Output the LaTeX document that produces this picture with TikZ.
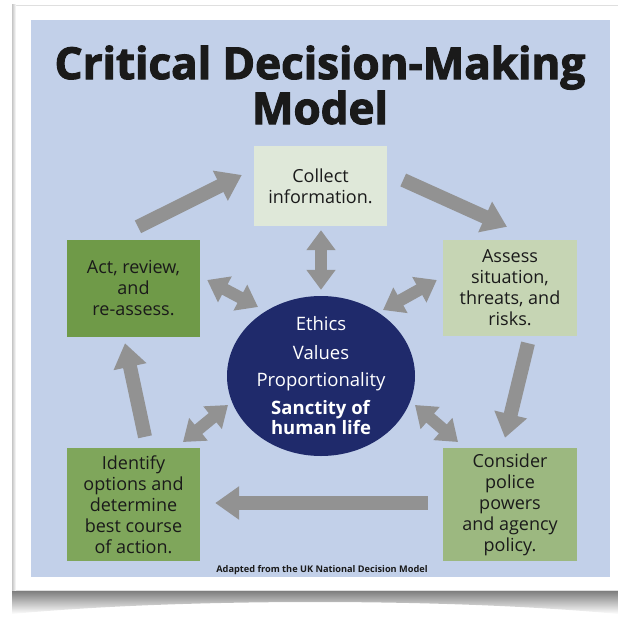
\documentclass[tikz,border=0pt]{standalone}
\usepackage{fontspec}
\setmainfont{Open Sans}
\newfontfamily\titlefont[BoldFeatures={FakeBold=2.5}]{Open Sans}
\usepackage{xcolor}
\usetikzlibrary{arrows.meta,shapes,calc}

\definecolor{panelblue}{HTML}{C2D0E9}
\definecolor{paleleaf}{HTML}{DFE8D9}
\definecolor{darkleaf}{HTML}{6F9A48}
\definecolor{lightleaf}{HTML}{C6D5B4}
\definecolor{midleaf}{HTML}{7FA65B}
\definecolor{softleaf}{HTML}{9CB880}
\definecolor{navyblue}{HTML}{1F2A6B}
\definecolor{arrowgray}{HTML}{929292}
\definecolor{ink}{HTML}{1A1A1A}

\begin{document}
\begin{tikzpicture}[x=1pt,y=-1pt]
    \tikzset{box/.style = {shape=rectangle,inner sep=1pt,align=center,text=ink,font=\fontsize{18}{21}\selectfont}}
    \tikzset{cycle/.style = {draw=arrowgray,line width=14pt,-{Triangle[width=32pt,length=24pt]}}}
    \tikzset{link/.style = {draw=arrowgray,line width=12pt,{Triangle[width=28pt,length=20pt]}-{Triangle[width=28pt,length=20pt]}}}

    \useasboundingbox (0,0) rectangle (618,618);

    % card and panel
    \shade[top color=gray!90!black,bottom color=white] (12,589) -- (618,589) -- (618,614) .. controls (450,598) and (180,598) .. (12,614) -- cycle;
    \fill[white,draw=gray!25] (12,5) rectangle (620,590);
    \shade[left color=gray!45,right color=white] (12,5) rectangle (16,590);
    \fill[panelblue] (31,20) rectangle (610,577);

    % title
    \node[align=center,text=ink,font=\titlefont\bfseries\fontsize{44}{45}\selectfont] (title) at (320,85) {Critical Decision-Making\\Model};

    % boxes
    \node[box,fill=paleleaf,minimum width=133pt,minimum height=80pt] (collect) at (320.5,186) {Collect\\information.};
    \node[box,fill=lightleaf,minimum width=134pt,minimum height=96pt] (assess) at (510,288) {Assess\\situation,\\threats, and\\risks.};
    \node[box,fill=softleaf,minimum width=134pt,minimum height=113pt] (consider) at (510,504.5) {Consider\\police\\powers\\and agency\\policy.};
    \node[box,fill=midleaf,minimum width=133pt,minimum height=113pt] (identify) at (133.5,504.5) {Identify\\options and\\determine\\best course\\of action.};
    \node[box,fill=darkleaf,minimum width=133pt,minimum height=97pt] (act) at (133.5,288.5) {Act, review,\\and\\re-assess.};

    % centre
    \node[ellipse,fill=navyblue,minimum width=188pt,minimum height=160pt] (ethos) at (321,376) {};
    \node[align=center,text=white,font=\fontsize{18.5}{20}\selectfont] (values) at (ethos) {Ethics\\[9pt]Values\\[7pt]Proportionality\\[8pt]\textbf{Sanctity of}\\\textbf{human life}};

    % footer
    \node[text=ink,font=\bfseries\fontsize{9.2}{11}\selectfont] (source) at (322,570) {Adapted from the UK National Decision Model};

    % cycle arrows
    \draw[cycle] ($(act.north)+(4.5,-13)$) -- ($(collect.west)+(-12,-11)$);
    \draw[cycle] ($(collect.east)+(16,-6)$) -- ($(assess.north)+(-3,-13)$);
    \draw[cycle] ($(assess.south)+(18,7)$) -- ($(consider.north)+(-5,-10)$);
    \draw[cycle] ($(consider.west)+(-15,-1.5)$) -- ($(identify.east)+(15,-1.5)$);
    \draw[cycle] ($(identify.north)+(11.5,-11)$) -- ($(act.south)+(-8.5,6)$);

    % links to the centre
    \draw[link] ($(collect.south)+(0.5,4)$) -- ($(ethos.north)+(0,-6)$);
    \draw[link] ($(act.east)+(7,-8.5)$) -- ($(ethos)+(-63,-69)$);
    \draw[link] ($(assess.west)+(-6,-8)$) -- ($(ethos)+(62,-66)$);
    \draw[link] ($(identify)+(49.5,-62.5)$) -- ($(ethos)+(-93,29)$);
    \draw[link] ($(consider)+(-52,-62.5)$) -- ($(ethos)+(94,29)$);

\end{tikzpicture}
\end{document}
